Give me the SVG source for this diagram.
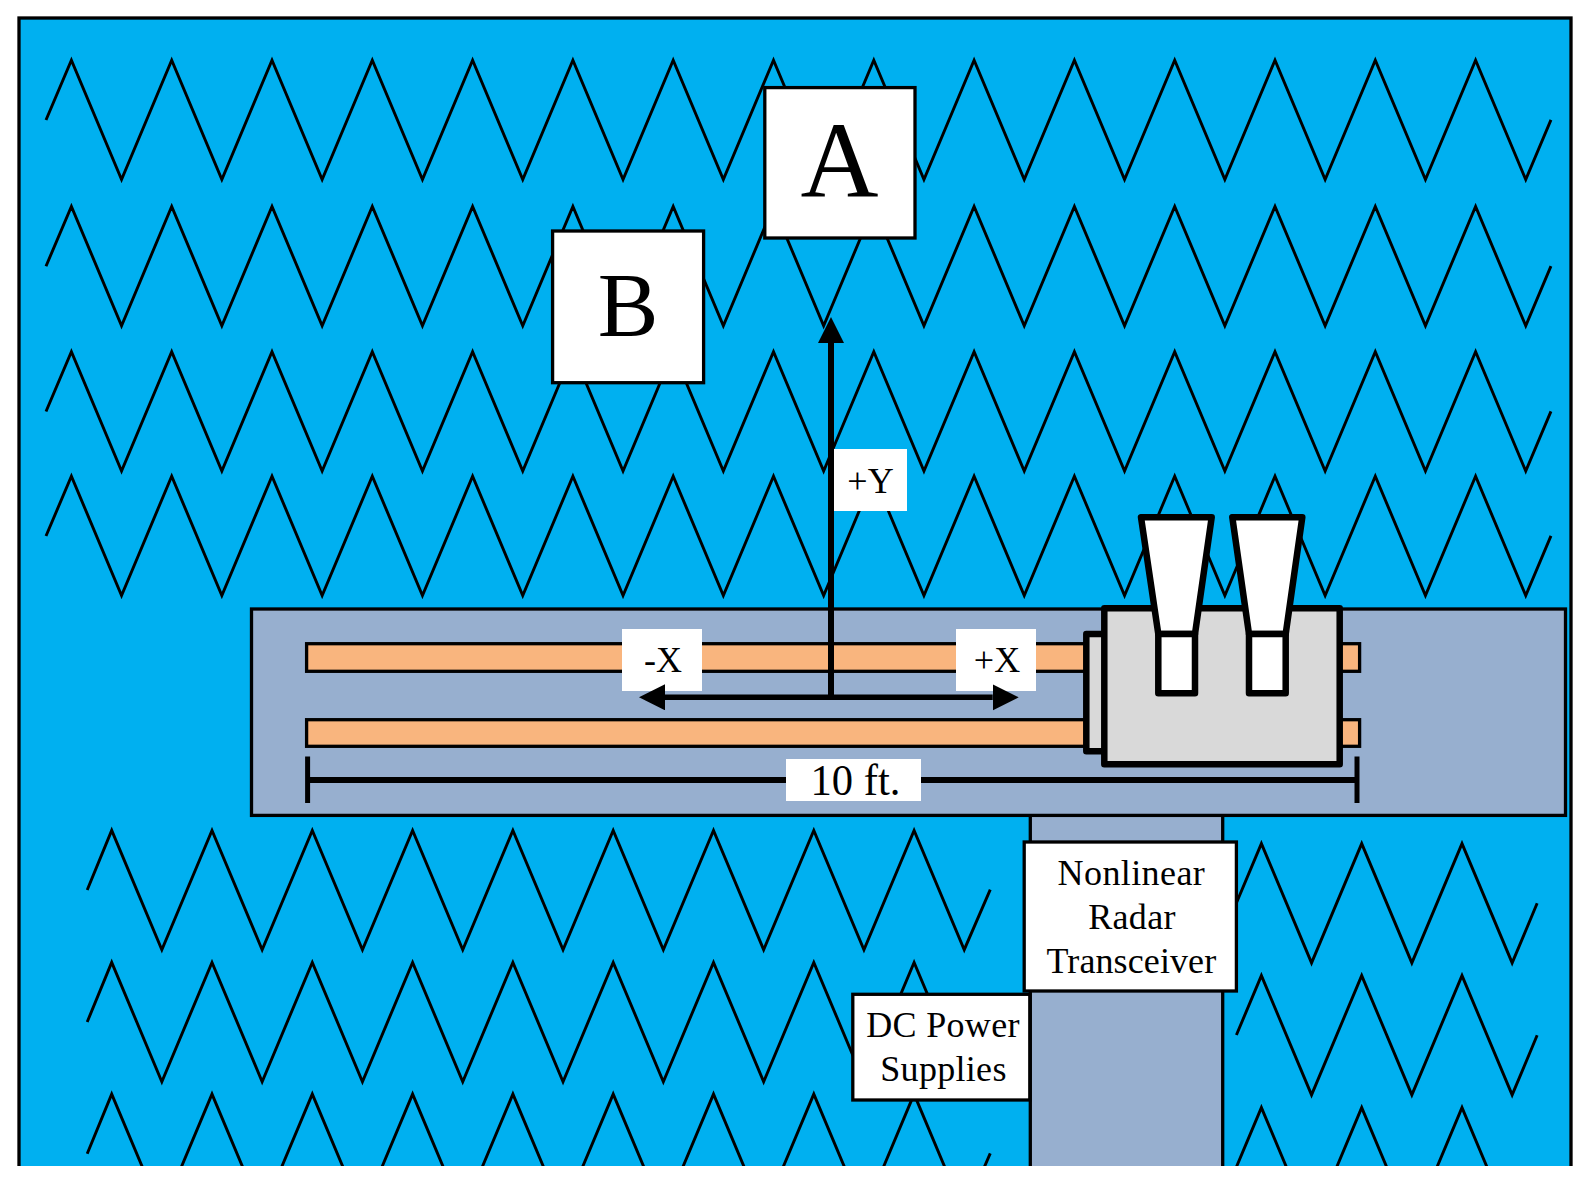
<svg xmlns="http://www.w3.org/2000/svg" width="1590" height="1189" viewBox="0 0 1590 1189">
<style>
.zig{fill:none;stroke:#000;stroke-width:2.9;stroke-miterlimit:10}
.band{fill:#97AFCF;stroke:#000;stroke-width:3.3}
.rail{fill:#F9B57E;stroke:#000;stroke-width:3.3}
.box{fill:#fff;stroke:#000;stroke-width:3.3}
.lab{fill:#fff;stroke:none}
.dev{fill:#D9D9D9;stroke:#000;stroke-width:6.5;stroke-linejoin:round}
.horn{fill:#fff;stroke:#000;stroke-width:6.5;stroke-linejoin:round}
.ax{fill:none;stroke:#000;stroke-width:5.4}
.dim{fill:none;stroke:#000;stroke-width:5.8}
text{font-family:"Liberation Serif","Times New Roman",serif;fill:#000;text-anchor:middle}
.t{font-size:36px}
</style>
<defs>
<clipPath id="page"><rect x="0" y="0" width="1590" height="1166"/></clipPath>
<marker id="head" markerUnits="userSpaceOnUse" markerWidth="27" markerHeight="27" refX="0" refY="13" orient="auto"><path d="M0 0L26 13L0 26Z" fill="#000"/></marker>
<path id="zigTop" d="M46 120L71.4 60.2l50.15 119.4l50.15 -119.4l50.15 119.4l50.15 -119.4l50.15 119.4l50.15 -119.4l50.15 119.4l50.15 -119.4l50.15 119.4l50.15 -119.4l50.15 119.4l50.15 -119.4l50.15 119.4l50.15 -119.4l50.15 119.4l50.15 -119.4l50.15 119.4l50.15 -119.4l50.15 119.4l50.15 -119.4l50.15 119.4l50.15 -119.4l50.15 119.4l50.15 -119.4l50.15 119.4l50.15 -119.4l50.15 119.4l50.15 -119.4l50.15 119.4l25.2 -59.7"/>
<path id="zigLeft" d="M87.2 890L111.7 830.4l50.15 119.3l50.15 -119.3l50.15 119.3l50.15 -119.3l50.15 119.3l50.15 -119.3l50.15 119.3l50.15 -119.3l50.15 119.3l50.15 -119.3l50.15 119.3l50.15 -119.3l50.15 119.3l50.15 -119.3l50.15 119.3l50.15 -119.3l50.15 119.3l26 -60"/>
<path id="zigRight" d="M1236.4 903L1261.4 843.6l50.15 119.3l50.15 -119.3l50.15 119.3l50.15 -119.3l50.15 119.3l25 -59.6"/>
</defs>
<g clip-path="url(#page)">
<rect id="water" x="19" y="18" width="1552" height="1200" fill="#00B0F0" stroke="#000" stroke-width="3.3"/>
<g id="waves">
<use href="#zigTop" class="zig"/>
<use href="#zigTop" class="zig" y="146.2"/>
<use href="#zigTop" class="zig" y="291.5"/>
<use href="#zigTop" class="zig" y="416"/>
<use href="#zigLeft" class="zig"/>
<use href="#zigLeft" class="zig" y="132"/>
<use href="#zigLeft" class="zig" y="263.7"/>
<use href="#zigRight" class="zig"/>
<use href="#zigRight" class="zig" y="132"/>
<use href="#zigRight" class="zig" y="264"/>
</g>
<g id="walkway">
<rect class="band" x="1030.3" y="815" width="192.4" height="400"/>
<rect class="band" x="251.5" y="609" width="1314" height="206.4"/>
</g>
<g id="rails">
<rect class="rail" x="306.6" y="643.7" width="1053" height="27.6"/>
<rect class="rail" x="306.6" y="719.7" width="1053" height="26.6"/>
</g>
<g id="label-minus-x"><rect class="lab" x="622" y="629" width="80" height="62"/><text class="t" x="663" y="672">-X</text></g>
<g id="label-plus-x"><rect class="lab" x="956" y="629" width="80" height="62"/><text class="t" x="997" y="672">+X</text></g>
<g id="label-plus-y"><rect class="lab" x="834" y="449" width="73" height="62"/><text class="t" x="870.5" y="492.5">+Y</text></g>
<g id="connectors">
<line class="ax" x1="831" y1="697.3" x2="831" y2="343" marker-end="url(#head)" style="stroke-width:6"/>
<line class="ax" x1="831" y1="697.3" x2="665" y2="697.3" marker-end="url(#head)"/>
<line class="ax" x1="831" y1="697.3" x2="992.7" y2="697.3" marker-end="url(#head)"/>
<line class="dim" x1="307.6" y1="780" x2="1357" y2="780"/>
<line class="dim" x1="307.6" y1="756.5" x2="307.6" y2="803" style="stroke-width:5"/>
<line class="dim" x1="1357" y1="756.5" x2="1357" y2="803" style="stroke-width:5"/>
</g>
<g id="label-10ft"><rect class="lab" x="786" y="759" width="135" height="42"/><text x="855.5" y="795" font-size="45" textLength="90" lengthAdjust="spacingAndGlyphs">10 ft.</text></g>
<g id="radar">
<rect class="dev" x="1086.3" y="634" width="30" height="117.3"/>
<rect class="dev" x="1104.3" y="608.3" width="235.4" height="156"/>
<path class="horn" d="M1141 517.3H1211.7L1195 634H1158.3Z"/>
<rect class="horn" x="1158.3" y="634" width="36.7" height="59.3"/>
<path class="horn" d="M1232.3 517.3H1302.3L1285.7 634H1249Z"/>
<rect class="horn" x="1249" y="634" width="36.7" height="59.3"/>
</g>
<g id="box-a"><rect class="box" x="764.8" y="87.6" width="150.2" height="150.4"/><text x="839.5" y="197" font-size="108">A</text></g>
<g id="box-b"><rect class="box" x="552.6" y="231" width="151" height="151.7"/><text x="628" y="335.6" font-size="91">B</text></g>
<g id="box-transceiver"><rect class="box" x="1024.2" y="842" width="212.2" height="149"/>
<text class="t" x="1131.4" y="885" letter-spacing="0.4">Nonlinear</text><text class="t" x="1132" y="929" letter-spacing="0.3">Radar</text><text class="t" x="1131.4" y="973" letter-spacing="0.1">Transceiver</text></g>
<g id="box-power"><rect class="box" x="852.8" y="994.3" width="177" height="105.7"/>
<text class="t" x="943" y="1037" letter-spacing="0.3">DC Power</text><text class="t" x="943.5" y="1081" letter-spacing="0.3">Supplies</text></g>
</g>
</svg>
